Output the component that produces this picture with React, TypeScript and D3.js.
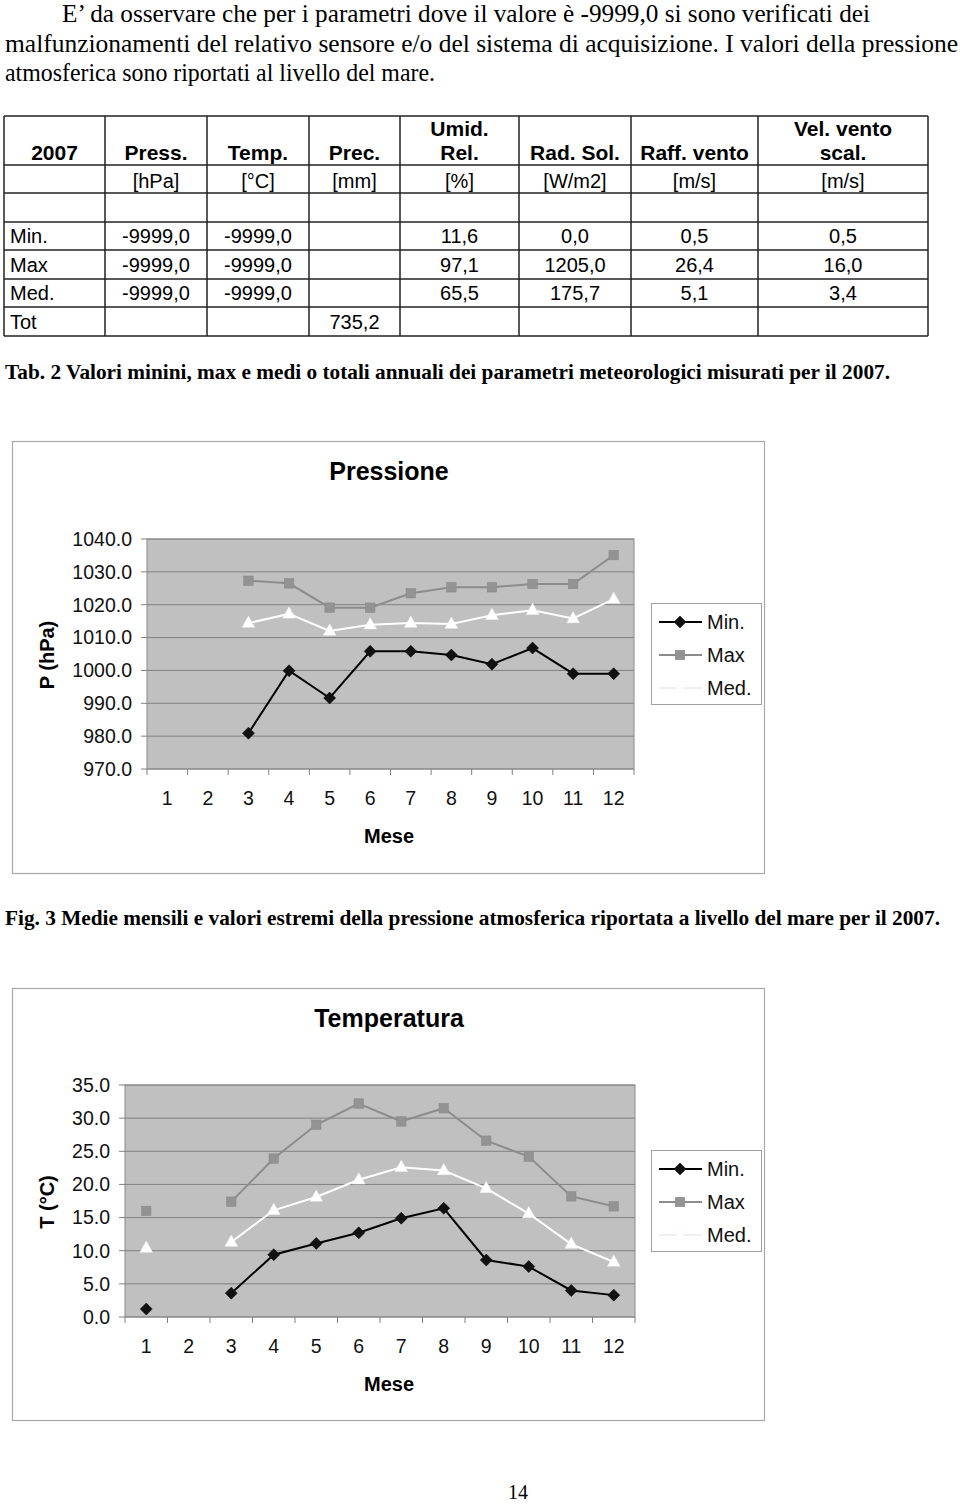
import React from "react";
import * as d3 from "d3";

// ---------- Data ----------
const paragraph = [
  "E’ da osservare che per i parametri dove il valore è -9999,0 si sono verificati dei",
  "malfunzionamenti del relativo sensore e/o del sistema di acquisizione. I valori della pressione",
  "atmosferica sono riportati al livello del mare.",
];

const tableHeader1 = ["", "", "", "", "Umid.", "", "", "Vel. vento"];
const tableHeader2 = ["2007", "Press.", "Temp.", "Prec.", "Rel.", "Rad. Sol.", "Raff. vento", "scal."];
const tableUnits = ["", "[hPa]", "[°C]", "[mm]", "[%]", "[W/m2]", "[m/s]", "[m/s]"];
const rowMin = ["Min.", "-9999,0", "-9999,0", "", "11,6", "0,0", "0,5", "0,5"];
const rowMax = ["Max", "-9999,0", "-9999,0", "", "97,1", "1205,0", "26,4", "16,0"];
const rowMed = ["Med.", "-9999,0", "-9999,0", "", "65,5", "175,7", "5,1", "3,4"];
const rowTot = ["Tot", "", "", "735,2", "", "", "", ""];

const tableCaption = "Tab. 2 Valori minini, max e medi o totali annuali dei parametri meteorologici misurati per il 2007.";
const figCaption = "Fig. 3 Medie mensili e valori estremi della pressione atmosferica riportata a livello del mare per il 2007.";

const months = [1, 2, 3, 4, 5, 6, 7, 8, 9, 10, 11, 12];

const pMin = [null, null, 980.9, 999.9, 991.6, 1005.8, 1005.8, 1004.7, 1001.9, 1006.8, 999.0, 999.0];
const pMax = [null, null, 1027.3, 1026.5, 1019.1, 1019.1, 1023.5, 1025.3, 1025.3, 1026.3, 1026.3, 1035.1];
const pMed = [null, null, 1014.4, 1017.2, 1012.0, 1013.9, 1014.4, 1014.1, 1016.8, 1018.3, 1015.8, 1021.7];
const pTicks = [970, 980, 990, 1000, 1010, 1020, 1030, 1040];

const tMin = [1.2, null, 3.6, 9.4, 11.1, 12.7, 14.9, 16.4, 8.6, 7.6, 4.0, 3.3];
const tMax = [16.0, null, 17.4, 23.9, 29.0, 32.2, 29.5, 31.5, 26.6, 24.2, 18.2, 16.7];
const tMed = [10.4, null, 11.3, 16.1, 18.1, 20.7, 22.6, 22.1, 19.4, 15.6, 11.0, 8.3];
const tTicks = [0, 5, 10, 15, 20, 25, 30, 35];

const seriesNames = ["Min.", "Max", "Med."];

// ---------- Styles ----------
const SANS = "'Liberation Sans', Arial, sans-serif";
const SERIF = "'Liberation Serif', 'Times New Roman', serif";
const MIN_C = "#000000";
const MAX_C = "#8c8c8c";
const MED_C = "#ffffff";

function Marker({ kind, x, y }: { kind: string; x: number; y: number }) {
  if (kind === "diamond") {
    const r = 6;
    return <path d={`M${x},${y - r}L${x + r},${y}L${x},${y + r}L${x - r},${y}Z`} fill="#111" stroke="#000" strokeWidth={0.5} />;
  }
  if (kind === "square") {
    const s = 9.5;
    return <rect x={x - s / 2} y={y - s / 2} width={s} height={s} fill="#939393" stroke="#888" strokeWidth={0.5} />;
  }
  const r = 7;
  return (
    <path
      d={`M${x},${y - r}L${x + r * 0.9},${y + r * 0.6}L${x - r * 0.9},${y + r * 0.6}Z`}
      fill="#ffffff"
      stroke="#f4f4f4"
      strokeWidth={0.5}
    />
  );
}

type ChartProps = {
  frame: { x0: number; y0: number; x1: number; y1: number };
  plot: { x0: number; y0: number; x1: number; y1: number };
  title: string;
  yLabel: string;
  ticks: number[];
  mins: (number | null)[];
  maxs: (number | null)[];
  meds: (number | null)[];
  legendY: number;
};

function LineChart(p: ChartProps) {
  const { frame, plot, ticks } = p;
  const x = d3.scaleBand<number>().domain(months).range([plot.x0, plot.x1]).padding(0);
  const y = d3
    .scaleLinear()
    .domain([ticks[0], ticks[ticks.length - 1]])
    .range([plot.y1, plot.y0]);
  const cx = (m: number) => (x(m) as number) + x.bandwidth() / 2;

  const mk = (vals: (number | null)[]) =>
    d3
      .line<number | null>()
      .defined((d) => d != null)
      .x((_, i) => cx(months[i]))
      .y((d) => y(d as number))(vals) || "";

  const series = [
    { name: seriesNames[0], vals: p.mins, color: MIN_C, kind: "diamond" },
    { name: seriesNames[1], vals: p.maxs, color: MAX_C, kind: "square" },
    { name: seriesNames[2], vals: p.meds, color: MED_C, kind: "triangle" },
  ];
  const plotMid = 389;
  const boundaries = months.map((m) => x(m) as number).concat([plot.x1]);

  return (
    <g>
      <rect
        x={frame.x0 + 0.5}
        y={frame.y0 + 0.5}
        width={frame.x1 - frame.x0}
        height={frame.y1 - frame.y0}
        fill="#fff"
        stroke="#a8a8a8"
        strokeWidth={1.2}
      />
      <text x={plotMid} y={frame.y0 + 39} textAnchor="middle" fontFamily={SANS} fontWeight="bold" fontSize={25}>
        {p.title}
      </text>
      <rect x={plot.x0} y={plot.y0} width={plot.x1 - plot.x0} height={plot.y1 - plot.y0} fill="#c0c0c0" />
      {ticks.map((t) => (
        <line key={"g" + t} x1={plot.x0} x2={plot.x1} y1={y(t)} y2={y(t)} stroke="#808080" strokeWidth={1} />
      ))}
      <rect x={plot.x0} y={plot.y0} width={plot.x1 - plot.x0} height={plot.y1 - plot.y0} fill="none" stroke="#8a8a8a" strokeWidth={1} />
      {ticks.map((t) => (
        <g key={"t" + t}>
          <line x1={plot.x0 - 6} x2={plot.x0} y1={y(t)} y2={y(t)} stroke="#808080" />
          <text x={plot.x0 - 15} y={y(t)} dy="0.35em" textAnchor="end" fontFamily={SANS} fontSize={19.5} fill="#111">
            {t.toFixed(1)}
          </text>
        </g>
      ))}
      {boundaries.map((b, i) => (
        <line key={"xt" + i} x1={b} x2={b} y1={plot.y1} y2={plot.y1 + 6} stroke="#808080" />
      ))}
      {months.map((m) => (
        <text key={"m" + m} x={cx(m)} y={plot.y1 + 29} dy="0.35em" textAnchor="middle" fontFamily={SANS} fontSize={19.5} fill="#111">
          {m}
        </text>
      ))}
      <text x={plotMid} y={plot.y1 + 67} dy="0.35em" textAnchor="middle" fontFamily={SANS} fontWeight="bold" fontSize={20}>
        Mese
      </text>
      <text
        transform={`translate(47,${(plot.y0 + plot.y1) / 2 + 1}) rotate(-90)`}
        textAnchor="middle"
        dy="0.35em"
        fontFamily={SANS}
        fontWeight="bold"
        fontSize={20}
      >
        {p.yLabel}
      </text>
      {[series[1], series[2], series[0]].map((s) => (
        <g key={"s" + s.name}>
          <path d={mk(s.vals)} fill="none" stroke={s.color} strokeWidth={2} />
          {s.vals.map((v, i) => (v == null ? null : <Marker key={i} kind={s.kind} x={cx(months[i])} y={y(v)} />))}
        </g>
      ))}
      {/* legend */}
      <rect x={651.5} y={p.legendY + 0.5} width={110} height={101} fill="#fff" stroke="#a0a0a0" strokeWidth={1} />
      {series.map((s, i) => {
        const ly = p.legendY + 19 + i * 33;
        return (
          <g key={"l" + s.name}>
            <line x1={659} x2={702} y1={ly} y2={ly} stroke={s.color === MED_C ? "#f0f0f0" : s.color} strokeWidth={2} />
            <Marker kind={s.kind} x={680} y={ly} />
            <text x={707} y={ly} dy="0.35em" fontFamily={SANS} fontSize={20} fill="#111">
              {s.name}
            </text>
          </g>
        );
      })}
    </g>
  );
}

export default function App() {
  const cols = [4, 105, 207, 309, 400, 519, 631, 758, 928];
  const hLines = [116, 165, 193, 222, 250, 279, 307, 336];
  const centers = cols.slice(0, -1).map((c, i) => (c + cols[i + 1]) / 2);
  const dataRows = [rowMin, rowMax, rowMed, rowTot];
  const dataRowCenters = [236, 264.5, 293, 321.5];

  return (
    <svg width={960} height={1505} style={{ position: "absolute", left: 0, top: 0, background: "#fff" }}>
      <rect x={0} y={0} width={960} height={1505} fill="#fff" />
      {/* paragraph */}
      <text x={62} y={22} fontFamily={SERIF} fontSize={24.5} textLength={808} lengthAdjust="spacingAndGlyphs">
        {paragraph[0]}
      </text>
      <text x={5} y={52} fontFamily={SERIF} fontSize={24.5} textLength={953} lengthAdjust="spacingAndGlyphs">
        {paragraph[1]}
      </text>
      <text x={5} y={81} fontFamily={SERIF} fontSize={24.5} textLength={430} lengthAdjust="spacingAndGlyphs">
        {paragraph[2]}
      </text>

      {/* table */}
      <g stroke="#222" strokeWidth={1.5}>
        {hLines.map((h) => (
          <line key={"h" + h} x1={cols[0]} x2={cols[cols.length - 1]} y1={h} y2={h} />
        ))}
        {cols.map((c) => (
          <line key={"v" + c} x1={c} x2={c} y1={hLines[0]} y2={hLines[hLines.length - 1]} />
        ))}
      </g>
      {tableHeader1.map((t, i) => (
        <text key={"h1" + i} x={centers[i]} y={129} dy="0.35em" textAnchor="middle" fontFamily={SANS} fontWeight="bold" fontSize={21}>
          {t}
        </text>
      ))}
      {tableHeader2.map((t, i) => (
        <text key={"h2" + i} x={centers[i]} y={153} dy="0.35em" textAnchor="middle" fontFamily={SANS} fontWeight="bold" fontSize={21}>
          {t}
        </text>
      ))}
      {tableUnits.map((t, i) => (
        <text key={"u" + i} x={centers[i]} y={181} dy="0.35em" textAnchor="middle" fontFamily={SANS} fontSize={20}>
          {t}
        </text>
      ))}
      {dataRows.map((row, r) =>
        row.map((t, i) => (
          <text
            key={"d" + r + "_" + i}
            x={i === 0 ? 10 : centers[i]}
            y={dataRowCenters[r]}
            dy="0.35em"
            textAnchor={i === 0 ? "start" : "middle"}
            fontFamily={SANS}
            fontSize={20}
          >
            {t}
          </text>
        ))
      )}
      <text x={5} y={379} fontFamily={SERIF} fontWeight="bold" fontSize={21} textLength={885} lengthAdjust="spacingAndGlyphs">
        {tableCaption}
      </text>

      <LineChart
        frame={{ x0: 12, y0: 441, x1: 764, y1: 873 }}
        plot={{ x0: 147, y0: 539, x1: 634, y1: 769 }}
        title="Pressione"
        yLabel="P (hPa)"
        ticks={pTicks}
        mins={pMin}
        maxs={pMax}
        meds={pMed}
        legendY={603}
      />

      <text x={5} y={925} fontFamily={SERIF} fontWeight="bold" fontSize={21} textLength={935} lengthAdjust="spacingAndGlyphs">
        {figCaption}
      </text>

      <LineChart
        frame={{ x0: 12, y0: 988, x1: 764, y1: 1420 }}
        plot={{ x0: 125, y0: 1085, x1: 635, y1: 1317 }}
        title="Temperatura"
        yLabel="T (°C)"
        ticks={tTicks}
        mins={tMin}
        maxs={tMax}
        meds={tMed}
        legendY={1150}
      />

      <text x={518} y={1499} textAnchor="middle" fontFamily={SERIF} fontSize={20}>
        14
      </text>
    </svg>
  );
}
